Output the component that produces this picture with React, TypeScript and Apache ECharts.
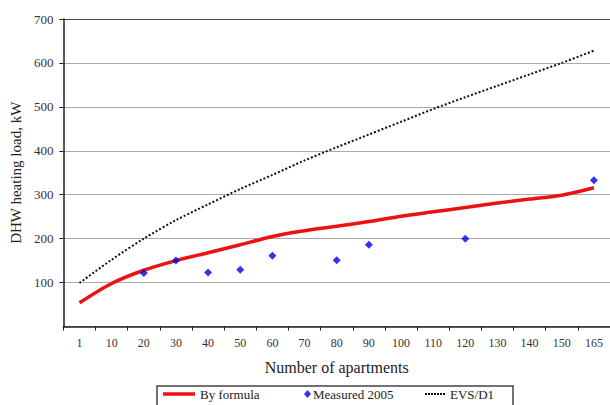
import React, { useEffect, useRef } from "react";
import * as echarts from "echarts";

const categories = ["1", "10", "20", "30", "40", "50", "60", "70", "80", "90", "100", "110", "120", "130", "140", "150", "165"];
const byFormula = [54, 98, 128, 150, 168, 186, 205, 218, 228, 239, 251, 261, 271, 281, 290, 299, 316];
const measured2005: (number | null)[] = [null, null, 122, 150, 123, 129, 161, null, 151, 186, null, null, 200, null, null, null, 333];
const evsD1 = [99, 152, 200, 242, 278, 313, 345, 378, 408, 437, 466, 495, 522, 548, 574, 600, 628];
const yTicks = { min: 0, max: 700, interval: 100 };

const FONT = "Liberation Serif, serif";
const LINE_ICON = "path://M0,0L32,0L32,3.5L0,3.5Z";
const DOT_ICON =
  "path://M0,0h2v2h-2zM3,0h2v2h-2zM6,0h2v2h-2zM9,0h2v2h-2zM12,0h2v2h-2zM15,0h2v2h-2zM18,0h2v2h-2z";

export default function App() {
  const ref = useRef<HTMLDivElement>(null);
  useEffect(() => {
    if (!ref.current) return;
    const chart = echarts.init(ref.current, undefined, { renderer: "svg" });
    const legendText = { fontFamily: FONT, fontSize: 13, color: "#222", lineHeight: 14 };
    chart.setOption({
      animation: false,
      backgroundColor: "#fff",
      textStyle: { fontFamily: FONT },
      grid: { left: 62, top: 19, right: -4, bottom: 78.5, containLabel: false },
      xAxis: {
        type: "category",
        data: categories,
        boundaryGap: true,
        name: "Number of apartments",
        nameLocation: "middle",
        nameGap: 33,
        nameTextStyle: { fontFamily: FONT, fontSize: 16, color: "#222" },
        axisLine: { lineStyle: { color: "#222", width: 1.5 } },
        axisTick: { show: true, length: 4, lineStyle: { color: "#222" } },
        axisLabel: { fontFamily: FONT, fontSize: 12, color: "#333", margin: 10, interval: 0 },
        splitLine: { show: false },
      },
      yAxis: {
        type: "value",
        min: yTicks.min,
        max: yTicks.max,
        interval: yTicks.interval,
        name: "DHW heating load, kW",
        nameLocation: "middle",
        nameGap: 36,
        nameTextStyle: { fontFamily: FONT, fontSize: 15, color: "#222" },
        axisLine: { show: true, lineStyle: { color: "#222", width: 1.5 } },
        axisTick: { show: true, length: 4, lineStyle: { color: "#222" } },
        axisLabel: { fontFamily: FONT, fontSize: 13, color: "#333", margin: 10, showMinLabel: false },
        splitLine: {
          show: true,
          lineStyle: { color: ["#999", "#aaa", "#aaa", "#aaa", "#aaa", "#aaa", "#aaa", "#444"], width: 1 },
        },
      },
      legend: [
        {
          data: [{ name: "By formula", icon: LINE_ICON }],
          left: 163,
          top: 387,
          padding: 0,
          itemWidth: 32,
          itemHeight: 14,
          symbolKeepAspect: true,
          textStyle: legendText,
        },
        {
          data: [{ name: "Measured 2005", icon: "diamond" }],
          left: 304,
          top: 387,
          padding: 0,
          itemWidth: 7,
          itemHeight: 8,
          symbolKeepAspect: true,
          textStyle: { ...legendText, padding: [0, 0, 0, -3] },
        },
        {
          data: [{ name: "EVS/D1", icon: DOT_ICON }],
          left: 425,
          top: 387,
          padding: 0,
          itemWidth: 20,
          itemHeight: 14,
          symbolKeepAspect: true,
          textStyle: legendText,
        },
      ],
      graphic: [
        {
          type: "rect",
          shape: { x: 157, y: 386, width: 356, height: 30 },
          style: { fill: "none", stroke: "#444", lineWidth: 1.5 },
          z: 10,
        },
      ],
      series: [
        {
          name: "By formula",
          type: "line",
          data: byFormula,
          smooth: 0.3,
          symbol: "none",
          lineStyle: { color: "#ee1111", width: 3.5 },
          itemStyle: { color: "#ee1111" },
          z: 3,
        },
        {
          name: "Measured 2005",
          type: "scatter",
          data: measured2005,
          symbol: "diamond",
          symbolSize: [8, 8],
          itemStyle: { color: "#0000ee" },
          z: 4,
        },
        {
          name: "EVS/D1",
          type: "line",
          data: evsD1,
          smooth: 0.3,
          symbol: "none",
          lineStyle: { color: "#111", width: 2, type: [2, 2] },
          itemStyle: { color: "#111" },
          z: 2,
        },
      ],
    });
    return () => chart.dispose();
  }, []);
  return <div ref={ref} style={{ width: 610, height: 405, position: "absolute", left: 0, top: 0 }} />;
}
